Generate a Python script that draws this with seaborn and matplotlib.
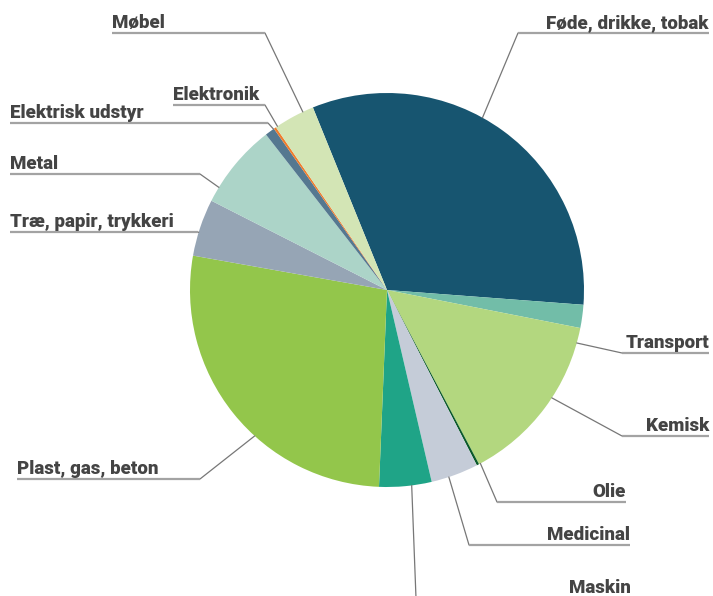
import numpy as np
import matplotlib
matplotlib.use("Agg")
import matplotlib.pyplot as plt
import seaborn as sns

# ─── Data (andel i %) ───────────────────────────────────────────────────────
sectors = ["Føde, drikke, tobak", "Transport", "Kemisk", "Olie", "Medicinal",
           "Maskin", "Plast, gas, beton", "Træ, papir, trykkeri", "Metal",
           "Elektrisk udstyr", "Elektronik", "Møbel"]
shares = [32.4, 1.9, 14.2, 0.2, 3.9, 4.3, 27.2, 4.7, 7.0, 0.8, 0.2, 3.4]
colors = ["#175570", "#72bda8", "#b3d77f", "#0b5a2a", "#c5ccd8", "#1fa487",
          "#93c64b", "#96a5b5", "#acd4c8", "#557890", "#f07d2c", "#d3e5b5"]

# ─── Label layout (pixels): side, text x, underline y, elbow x, tip angle ───
label_layout = {
    "Føde, drikke, tobak":  ("right", 709, 33, 518, 61.0),
    "Transport":            ("right", 709, 353, 622, -15.6),
    "Kemisk":               ("right", 709, 436, 622, -33.2),
    "Olie":                 ("right", 626, 502, 497, -61.7),
    "Medicinal":            ("right", 630, 545, 469, -71.7),
    "Maskin":               ("right", 631, 598, 416, -82.8),
    "Plast, gas, beton":    ("left", 17, 479, 200, 227.8),
    "Træ, papir, trykkeri": ("left", 10, 232, 198, 163.0),
    "Metal":                ("left", 10, 174, 200, 148.6),
    "Elektrisk udstyr":     ("left", 10, 123, 268, 125.2),
    "Elektronik":           ("left", 173, 105, 265, 123.8),
    "Møbel":                ("left", 112, 33, 265, 115.3),
}

W, H = 713, 596
CX, CY, R = 387, 290, 197
TEXT = "#444444"

sns.set_theme(style="white")
plt.rcParams["font.family"] = ["Roboto", "DejaVu Sans"]


def px(x, y):
    return (x - CX) / R, (CY - y) / R


fig = plt.figure(figsize=(W / 100, H / 100), dpi=100, facecolor="white")
ax = fig.add_axes([0, 0, 1, 1])

ax.pie(shares, colors=sns.color_palette(colors), startangle=112.1,
       counterclock=False, radius=1.0, center=(0, 0),
       wedgeprops={"linewidth": 0})

ax.set_xlim(px(0, 0)[0], px(W, 0)[0])
ax.set_ylim(px(0, H)[1], px(0, 0)[1])
ax.set_aspect("equal")
ax.axis("off")

for name in sectors:
    side, tx, ly, ex, ang = label_layout[name]
    tip = (np.cos(np.radians(ang)), np.sin(np.radians(ang)))
    elbow = px(ex, ly)
    end = px(tx, ly)
    # diagonal leader
    ax.plot([tip[0], elbow[0]], [tip[1], elbow[1]],
            color="#777777", lw=0.9, zorder=1)
    # underline below the label
    ax.plot([elbow[0], end[0]], [elbow[1], end[1]],
            color="#a3a3a3", lw=1.6, solid_capstyle="butt", zorder=1)
    ax.text(*px(tx, ly - 4.5), name, ha="left" if side == "left" else "right",
            va="baseline", fontsize=13.5, fontweight="heavy", color=TEXT)

fig.savefig("out.png", dpi=100, facecolor="white")
